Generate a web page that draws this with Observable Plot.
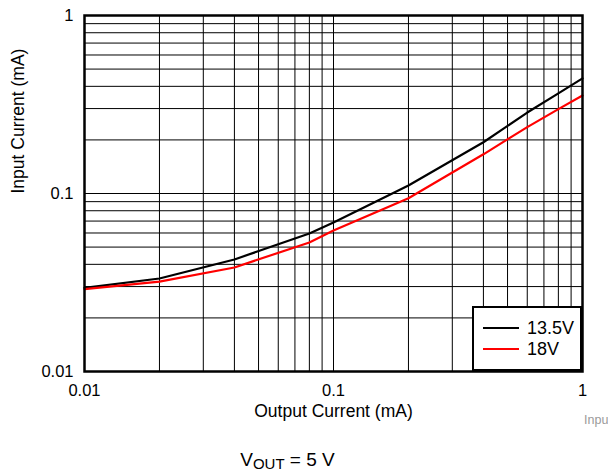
<!DOCTYPE html>
<html>
<head>
<meta charset="utf-8">
<script src="https://cdn.jsdelivr.net/npm/d3@7"></script>
<script src="https://cdn.jsdelivr.net/npm/@observablehq/plot@0.6"></script>
<style>
  html, body { margin: 0; padding: 0; background: #fff; }
  #wrap { position: relative; width: 608px; height: 472px; overflow: hidden; font-family: "Liberation Sans", Arial, Helvetica, sans-serif; }
  #legend { position: absolute; left: 472px; top: 306px; width: 106px; height: 61px; border: 2.5px solid #000; background: #fff; }
  #legend .row { position: absolute; left: 0; font-size: 18px; line-height: 18px; }
  #legend .sw { position: absolute; left: 9px; width: 36px; height: 2px; }
  #legend .lab { position: absolute; left: 53px; white-space: nowrap; }
  #caption { position: absolute; left: 0; width: 575px; top: 449px; text-align: center; font-size: 19px; }
  #caption sub { font-size: 15px; vertical-align: -3px; line-height: 0; }
  #cut { position: absolute; left: 584px; top: 413px; font-size: 12.5px; color: #9a9a9a; white-space: nowrap; }
</style>
</head>
<body>
<div id="wrap"></div>
<script>
// Data
const outputCurrent = [0.01, 0.02, 0.04, 0.08, 0.1, 0.2, 0.4, 0.6, 0.8, 1];
const input135 = [0.0295, 0.0333, 0.0426, 0.0596, 0.0687, 0.111, 0.194, 0.285, 0.365, 0.443];
const input18 = [0.029, 0.032, 0.0384, 0.0531, 0.062, 0.094, 0.166, 0.236, 0.298, 0.355];
const seriesNames = ["13.5V", "18V"];
const seriesColors = ["#000000", "#ff0000"];
const xTickValues = [0.01, 0.1, 1];
const yTickValues = [0.01, 0.1, 1];
const xGrid = [0.02,0.03,0.04,0.05,0.06,0.07,0.08,0.09,0.1,0.2,0.3,0.4,0.5,0.6,0.7,0.8,0.9];
const yGrid = [0.02,0.03,0.04,0.05,0.06,0.07,0.08,0.09,0.1,0.2,0.3,0.4,0.5,0.6,0.7,0.8,0.9];
const xLabel = "Output Current (mA)";
const yLabel = "Input Current (mA)";

const rows = [];
outputCurrent.forEach((x, i) => {
  rows.push({x, y: input135[i], s: seriesNames[0]});
  rows.push({x, y: input18[i], s: seriesNames[1]});
});
const fmt = d => String(d);

const chart = Plot.plot({
  width: 608,
  height: 432,
  marginTop: 15,
  marginLeft: 84,
  marginRight: 26,
  marginBottom: 61,
  style: { fontFamily: "'Liberation Sans', Arial, Helvetica, sans-serif", fontSize: "16.5px", color: "#000", background: "#fff" },
  x: { type: "log", domain: [0.01, 1] },
  y: { type: "log", domain: [0.01, 1] },
  color: { domain: seriesNames, range: seriesColors },
  marks: [
    Plot.ruleX(xGrid, { stroke: "#000", strokeWidth: 1 }),
    Plot.ruleY(yGrid, { stroke: "#000", strokeWidth: 1 }),
    Plot.line(rows, { x: "x", y: "y", z: "s", stroke: "s", strokeWidth: 2.2 }),
    Plot.axisX({ ticks: xTickValues, tickFormat: fmt, tickSize: 0, tickPadding: 13, label: null }),
    Plot.axisY({ ticks: yTickValues, tickFormat: fmt, tickSize: 0, tickPadding: 11, label: null }),
    Plot.text([xLabel], { text: d => d, frameAnchor: "bottom", dy: 45, fontSize: 17.5 }),
    Plot.text([yLabel], { text: d => d, frameAnchor: "left", dx: -66, rotate: -90, fontSize: 17.5 }),
    Plot.frame({ stroke: "#000", strokeWidth: 2.5 })
  ]
});

const wrap = document.getElementById("wrap");
wrap.appendChild(chart);

const legend = document.createElement("div");
legend.id = "legend";
seriesNames.forEach((name, i) => {
  const row = document.createElement("div");
  row.className = "row";
  row.style.top = (11 + i * 21) + "px";
  const sw = document.createElement("div");
  sw.className = "sw";
  sw.style.background = seriesColors[i];
  sw.style.top = "8px";
  const lab = document.createElement("div");
  lab.className = "lab";
  lab.textContent = name;
  row.appendChild(sw);
  row.appendChild(lab);
  legend.appendChild(row);
});
wrap.appendChild(legend);

const cap = document.createElement("div");
cap.id = "caption";
cap.innerHTML = "V<sub>OUT</sub> = 5 V";
wrap.appendChild(cap);

const cut = document.createElement("div");
cut.id = "cut";
cut.textContent = "Input Current";
wrap.appendChild(cut);
</script>
</body>
</html>
